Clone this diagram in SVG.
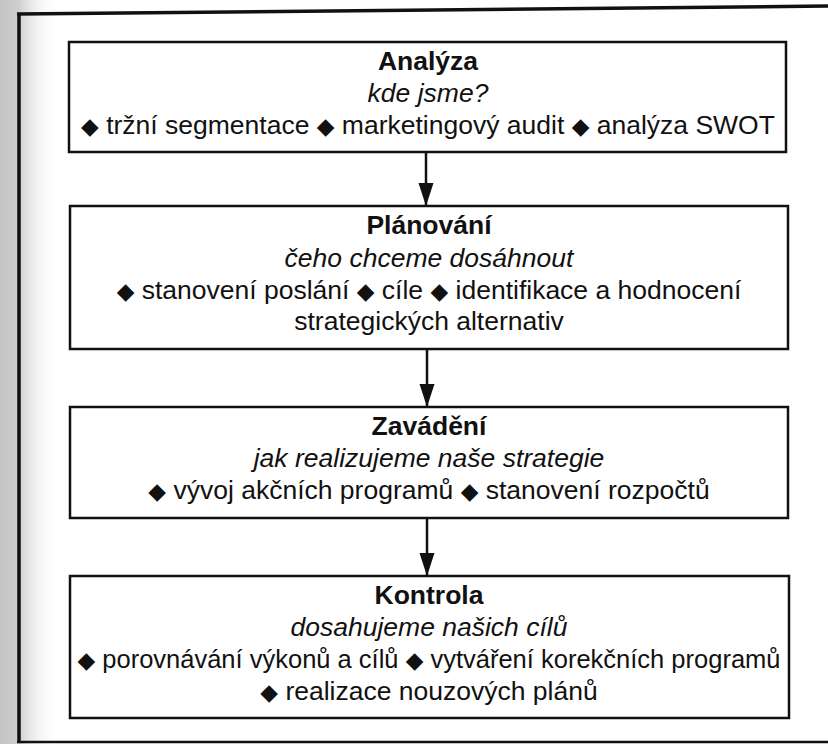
<svg xmlns="http://www.w3.org/2000/svg" width="828" height="744" viewBox="0 0 828 744">
  <defs>
    <linearGradient id="scan" x1="0" y1="0" x2="1" y2="0">
      <stop offset="0" stop-color="#c4c4c4"/>
      <stop offset="0.3" stop-color="#cdcdcd"/>
      <stop offset="0.45" stop-color="#e2e2e2"/>
      <stop offset="1" stop-color="#ffffff" stop-opacity="0"/>
    </linearGradient>
    <marker id="arr" markerUnits="userSpaceOnUse" markerWidth="24" markerHeight="16" refX="23" refY="8" orient="auto" viewBox="0 0 24 16">
      <polygon points="0,0.5 0,15.5 23,8" fill="#111"/>
    </marker>
    <style>
      .box { fill: #ffffff; stroke: #111; stroke-width: 2.5; }
      .frame { stroke: #111; stroke-width: 3.5; fill: none; }
      .t { font-family: "Liberation Sans", Arial, sans-serif; font-size: 26.5px; fill: #111; text-anchor: middle; }
      .b { font-weight: bold; }
      .i { font-style: italic; }
      .d { font-family: "DejaVu Sans", sans-serif; font-size: 23px; }
      .conn { stroke: #111; stroke-width: 2.5; fill: none; }
    </style>
  </defs>

  <rect x="0" y="0" width="828" height="744" fill="#ffffff"/>
  <rect x="0" y="0" width="60" height="744" fill="url(#scan)"/>

  <g id="frame">
    <line class="frame" x1="17" y1="14" x2="828" y2="6"/>
    <line class="frame" x1="19" y1="13" x2="19" y2="743"/>
    <line class="frame" x1="17" y1="742" x2="828" y2="742" style="stroke-width:2.5"/>
  </g>

  <g id="connectors">
    <line class="conn" x1="426" y1="152" x2="426" y2="206" marker-end="url(#arr)"/>
    <line class="conn" x1="427" y1="349" x2="427" y2="407" marker-end="url(#arr)"/>
    <line class="conn" x1="427" y1="518" x2="427" y2="576" marker-end="url(#arr)"/>
  </g>

  <g id="analyza">
    <rect class="box" x="69" y="42" width="717" height="110"/>
    <text class="t b" x="428" y="70">Analýza</text>
    <text class="t i" x="428" y="102">kde jsme?</text>
    <text class="t" x="428" y="134"><tspan class="d">◆</tspan> tržní segmentace <tspan class="d">◆</tspan> marketingový audit <tspan class="d">◆</tspan> analýza SWOT</text>
  </g>

  <g id="planovani">
    <rect class="box" x="70" y="206" width="718" height="143"/>
    <text class="t b" x="429" y="234">Plánování</text>
    <text class="t i" x="429" y="267">čeho chceme dosáhnout</text>
    <text class="t" x="429" y="299"><tspan class="d">◆</tspan> stanovení poslání <tspan class="d">◆</tspan> cíle <tspan class="d">◆</tspan> identifikace a hodnocení</text>
    <text class="t" x="429" y="330">strategických alternativ</text>
  </g>

  <g id="zavadeni">
    <rect class="box" x="70" y="407" width="718" height="111"/>
    <text class="t b" x="429" y="435">Zavádění</text>
    <text class="t i" x="429" y="467">jak realizujeme naše strategie</text>
    <text class="t" x="429" y="499"><tspan class="d">◆</tspan> vývoj akčních programů <tspan class="d">◆</tspan> stanovení rozpočtů</text>
  </g>

  <g id="kontrola">
    <rect class="box" x="70" y="576" width="719" height="142"/>
    <text class="t b" x="429" y="604">Kontrola</text>
    <text class="t i" x="429" y="636">dosahujeme našich cílů</text>
    <text class="t" x="429" y="668" style="font-size:25.5px"><tspan class="d">◆</tspan> porovnávání výkonů a cílů <tspan class="d">◆</tspan> vytváření korekčních programů</text>
    <text class="t" x="429" y="700"><tspan class="d">◆</tspan> realizace nouzových plánů</text>
  </g>
</svg>
